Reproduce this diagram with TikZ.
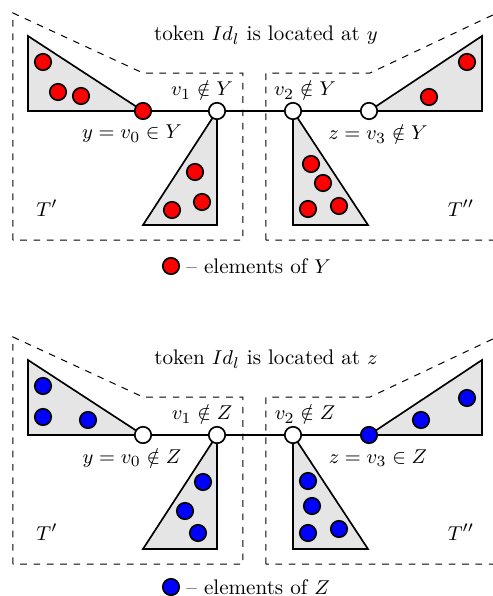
\documentclass[tikz,border=0pt]{standalone}
\begin{document}
\begin{tikzpicture}[x=0.45pt,y=-0.45pt,
  font=\fontsize{9.5}{11.4}\selectfont,
  region/.style={dashed, line width=0.45pt},
  tri/.style={fill=gray!20, draw=black, line width=0.75pt, line join=miter},
  edge/.style={line width=1pt},
  vtx/.style={circle, draw=black, line width=0.75pt, minimum size=7.4pt, inner sep=0pt, fill=white},
  reddot/.style={vtx, fill=red},
  bluedot/.style={vtx, fill=blue},
  lbl/.style={inner sep=0pt}]
\useasboundingbox (0,0) rectangle (493,596);

% ================= top panel =================
\draw[region] (13,240) -- (13,13) -- (143,73) -- (243,73) -- (243,240) -- cycle;
\draw[region] (266,240) -- (266,73) -- (370,73) -- (497,13) -- (497,240) -- cycle;

\coordinate (a0) at (143,111);
\coordinate (a1) at (217,111);
\coordinate (a2) at (293,111);
\coordinate (a3) at (369,111);

\draw[tri] (28,36) -- (28,111) -- (a0) -- cycle;
\draw[tri] (a1) -- (217,225) -- (143,225) -- cycle;
\draw[tri] (a2) -- (293,225) -- (368,225) -- cycle;
\draw[tri] (a3) -- (482,111) -- (482,36) -- cycle;

\node[reddot] (v0) at (a0) {};
\node[vtx] (v1) at (a1) {};
\node[vtx] (v2) at (a2) {};
\node[vtx] (v3) at (a3) {};
\draw[edge] (v0) -- (v1) -- (v2) -- (v3);

\foreach \p [count=\i] in {(43,62),(58,92),(81,96),(195,172),(202,202),(172,210),
  (311,164),(323,183),(308,209),(339,206),(467,62),(429,97)}
  \node[reddot] (r\i) at \p {};

\node[lbl] (t1) at (266,35) {token $Id_l$ is located at $y$};
\node[lbl] (l1) at (202,90) {$v_1 \notin Y$};
\node[lbl] (l0) at (132,134) {$y = v_0 \in Y$};
\node[lbl] (l2) at (305,90) {$v_2 \notin Y$};
\node[lbl] (l3) at (378,134) {$z = v_3 \notin Y$};
\node[lbl] (tp1) at (47,208) {$T'$};
\node[lbl] (tpp1) at (461,208) {$T''$};

\node[reddot] (leg1) at (171,266) {};
\node[lbl, anchor=west] (legt1) at (186,266) {-- elements of $Y$};

% ================= bottom panel =================
\begin{scope}[shift={(0,324)}]
\draw[region] (13,240) -- (13,13) -- (143,73) -- (243,73) -- (243,240) -- cycle;
\draw[region] (266,240) -- (266,73) -- (370,73) -- (497,13) -- (497,240) -- cycle;

\coordinate (b0) at (143,111);
\coordinate (b1) at (217,111);
\coordinate (b2) at (293,111);
\coordinate (b3) at (369,111);

\draw[tri] (28,36) -- (28,111) -- (b0) -- cycle;
\draw[tri] (b1) -- (217,225) -- (143,225) -- cycle;
\draw[tri] (b2) -- (293,225) -- (368,225) -- cycle;
\draw[tri] (b3) -- (482,111) -- (482,36) -- cycle;

\node[vtx] (w0) at (b0) {};
\node[vtx] (w1) at (b1) {};
\node[vtx] (w2) at (b2) {};
\node[bluedot] (w3) at (b3) {};
\draw[edge] (w0) -- (w1) -- (w2) -- (w3);

\foreach \p [count=\i] in {(43,62),(43,93),(88,96),(203,158),(185,187),(198,209),
  (308,157),(312,182),(308,209),(339,205),(467,74),(421,96)}
  \node[bluedot] (s\i) at \p {};

\node[lbl] (t2) at (266,35) {token $Id_l$ is located at $z$};
\node[lbl] (m1) at (202,90) {$v_1 \notin Z$};
\node[lbl] (m0) at (132,134) {$y = v_0 \notin Z$};
\node[lbl] (m2) at (305,90) {$v_2 \notin Z$};
\node[lbl] (m3) at (378,134) {$z = v_3 \in Z$};
\node[lbl] (tp2) at (47,208) {$T'$};
\node[lbl] (tpp2) at (461,208) {$T''$};
\end{scope}

\node[bluedot] (leg2) at (171,587) {};
\node[lbl, anchor=west] (legt2) at (186,587) {-- elements of $Z$};
\end{tikzpicture}
\end{document}
